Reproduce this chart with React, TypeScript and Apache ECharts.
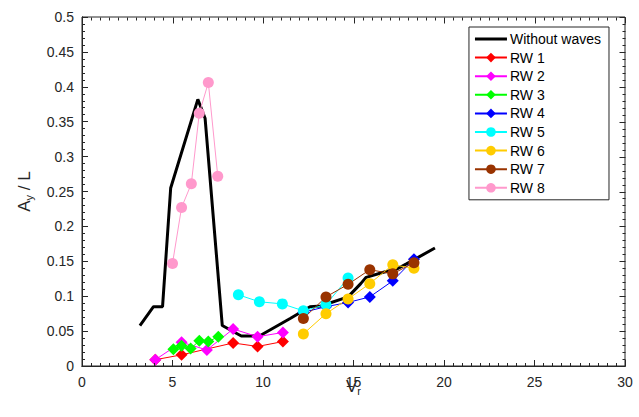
import React, { useEffect, useRef } from "react";
import * as echarts from "echarts";

const noWaveX = [3.2, 3.95, 4.45, 4.9, 6.4, 6.8, 7.75, 8.8, 9.8, 11.5, 12.6, 13.2, 14.7, 15.4, 15.7, 16.6, 17.4, 17.9, 19.5];
const noWaveY = [0.058, 0.085, 0.085, 0.255, 0.382, 0.355, 0.058, 0.043, 0.043, 0.068, 0.085, 0.086, 0.099, 0.118, 0.127, 0.134, 0.139, 0.146, 0.169];

const rw1X = [4.05, 5.5, 8.35, 9.7, 11.1];
const rw1Y = [0.009, 0.016, 0.033, 0.028, 0.035];
const rw2X = [4.05, 5.5, 6.9, 8.35, 9.7, 11.1];
const rw2Y = [0.009, 0.034, 0.023, 0.053, 0.042, 0.048];
const rw3X = [5.05, 5.5, 6.0, 6.48, 6.98, 7.53];
const rw3Y = [0.024, 0.029, 0.025, 0.036, 0.035, 0.042];
const rw4X = [12.23, 13.48, 14.7, 15.9, 17.17, 18.34];
const rw4Y = [0.077, 0.085, 0.091, 0.099, 0.122, 0.153];
const rw5X = [8.64, 9.8, 11.07, 12.23, 13.48, 14.7];
const rw5Y = [0.102, 0.092, 0.089, 0.079, 0.088, 0.126];
const rw6X = [12.23, 13.48, 14.7, 15.9, 17.17, 18.34];
const rw6Y = [0.046, 0.075, 0.096, 0.118, 0.145, 0.14];
const rw7X = [12.23, 13.48, 14.7, 15.9, 17.17, 18.34];
const rw7Y = [0.068, 0.099, 0.117, 0.138, 0.132, 0.148];
const rw8X = [5.0, 5.5, 6.04, 6.48, 6.98, 7.5];
const rw8Y = [0.147, 0.227, 0.261, 0.362, 0.406, 0.272];

const xTicks = [0, 5, 10, 15, 20, 25, 30];
const yTicks = [0, 0.05, 0.1, 0.15, 0.2, 0.25, 0.3, 0.35, 0.4, 0.45, 0.5];
const xMinorPerMajor = 10;
const yMinorPerMajor = 5;

const zip = (xs: number[], ys: number[]) => xs.map((x, i) => [x, ys[i]]);

const FONT = "Liberation Sans, Arial, Helvetica, sans-serif";
const AX = "#262626";
const GRID = { left: 82, top: 17, width: 543, height: 349 };

const sub = () => ({
  a: { fontSize: 17, color: AX, fontFamily: FONT, lineHeight: 20 },
  s: { fontSize: 11, color: AX, fontFamily: FONT, lineHeight: 20, verticalAlign: "bottom", padding: [12, 0, 0, 0] },
});

export default function App() {
  const ref = useRef<HTMLDivElement>(null);
  const ref2 = useRef<HTMLDivElement>(null);
  useEffect(() => {
    if (!ref.current || !ref2.current) return;
    const xMin = xTicks[0];
    const xMax = xTicks[xTicks.length - 1];
    const yMin = yTicks[0];
    const yMax = yTicks[yTicks.length - 1];

    // Main chart: labels, names, legend, data.
    const chart = echarts.init(ref.current, null, { renderer: "svg" });
    const mk = (name: string, xs: number[], ys: number[], color: string, symbol: string, size: number) => ({
      name,
      type: "line",
      data: zip(xs, ys),
      symbol,
      symbolSize: size,
      lineStyle: { color, width: 1 },
      itemStyle: { color },
      z: 3,
    });
    chart.setOption({
      animation: false,
      textStyle: { fontFamily: FONT },
      grid: { ...GRID, outerBoundsMode: "none" },
      xAxis: {
        type: "value",
        min: xMin,
        max: xMax,
        interval: 5,
        splitLine: { show: false },
        axisLine: { show: true, lineStyle: { color: AX, width: 1 } },
        axisTick: { show: false },
        axisLabel: { color: AX, fontSize: 14, margin: 9, fontFamily: FONT },
        name: "{a|V}{s|r}",
        nameLocation: "middle",
        nameGap: 10,
        nameMoveOverlap: false,
        nameTextStyle: { rich: sub() },
      },
      yAxis: {
        type: "value",
        min: yMin,
        max: yMax,
        interval: 0.05,
        splitLine: { show: false },
        axisLine: { show: true, lineStyle: { color: AX, width: 1 } },
        axisTick: { show: false },
        axisLabel: { color: AX, fontSize: 14, margin: 8, fontFamily: FONT },
        name: "{a|A}{s|y}{a| / L}",
        nameLocation: "middle",
        nameRotate: 90,
        nameGap: 48,
        nameTextStyle: { rich: sub() },
      },
      legend: {
        orient: "vertical",
        right: 30,
        top: 27,
        backgroundColor: "#fff",
        borderColor: AX,
        borderWidth: 1,
        borderRadius: 0,
        padding: [5, 8, 5, 5],
        itemWidth: 32,
        itemHeight: 12,
        itemGap: 4.6,
        textStyle: { fontSize: 14, lineHeight: 14, color: "#000", fontFamily: FONT, padding: [0, 0, 0, -2] },
        data: [
          { name: "Without waves", icon: "path://M0,0h32v3h-32z" },
          "RW 1", "RW 2", "RW 3", "RW 4", "RW 5", "RW 6", "RW 7", "RW 8",
        ],
      },
      series: [
        {
          name: "Without waves",
          type: "line",
          data: zip(noWaveX, noWaveY),
          showSymbol: false,
          symbol: "none",
          lineStyle: { color: "#000", width: 3 },
          itemStyle: { color: "#000" },
          z: 2,
        },
        mk("RW 1", rw1X, rw1Y, "#ff0000", "diamond", 12),
        mk("RW 2", rw2X, rw2Y, "#ff00ff", "diamond", 12),
        mk("RW 3", rw3X, rw3Y, "#00ff00", "diamond", 12),
        mk("RW 4", rw4X, rw4Y, "#0000ff", "diamond", 12),
        mk("RW 5", rw5X, rw5Y, "#00ffff", "circle", 11),
        mk("RW 6", rw6X, rw6Y, "#ffcc00", "circle", 11),
        mk("RW 7", rw7X, rw7Y, "#993300", "circle", 11),
        mk("RW 8", rw8X, rw8Y, "#ff99cc", "circle", 11),
      ],
    });

    // Overlay chart: frame and inside tick marks (no styled labels here).
    const frame = echarts.init(ref2.current, null, { renderer: "svg" });
    frame.setOption({
      animation: false,
      grid: { ...GRID, outerBoundsMode: "none", show: true, borderColor: AX, borderWidth: 1 },
      xAxis: {
        type: "value",
        min: xMin,
        max: xMax,
        interval: 5,
        splitLine: { show: false },
        axisLine: { show: true, lineStyle: { color: AX } },
        axisTick: { show: true, inside: true, length: 6, lineStyle: { color: AX } },
        minorTick: { show: true, splitNumber: xMinorPerMajor, length: 3, lineStyle: { color: AX } },
        axisLabel: { formatter: () => "" },
      },
      yAxis: {
        type: "value",
        min: yMin,
        max: yMax,
        interval: 0.05,
        splitLine: { show: false },
        axisLine: { show: true, lineStyle: { color: AX } },
        axisTick: { show: true, inside: true, length: 6, lineStyle: { color: AX } },
        minorTick: { show: true, splitNumber: yMinorPerMajor, length: 3, lineStyle: { color: AX } },
        axisLabel: { formatter: () => "" },
      },
      series: [
        { type: "line", data: [[xMin, yMin]], symbol: "none", silent: true, lineStyle: { opacity: 0 } },
      ],
    });
    // Top and right tick marks, positioned through the axes' scales.
    try {
      const px = (v: number) => frame.convertToPixel({ xAxisIndex: 0 }, v) as unknown as number;
      const py = (v: number) => frame.convertToPixel({ yAxisIndex: 0 }, v) as unknown as number;
      const yT = Math.round(py(yMax)) + 0.5;
      const xR = Math.round(px(xMax)) + 0.5;
      const elements: any[] = [];
      const style = { stroke: AX, lineWidth: 1, fill: null };
      const nx = (xTicks.length - 1) * xMinorPerMajor;
      for (let i = 0; i <= nx; i++) {
        const v = xMin + ((xMax - xMin) * i) / nx;
        const len = i % xMinorPerMajor === 0 ? 6 : 3;
        const x = Math.round(px(v)) + 0.5;
        elements.push({ type: "line", silent: true, z: 100, shape: { x1: x, y1: yT, x2: x, y2: yT + len }, style });
      }
      const ny = (yTicks.length - 1) * yMinorPerMajor;
      for (let j = 0; j <= ny; j++) {
        const v = yMin + ((yMax - yMin) * j) / ny;
        const len = j % yMinorPerMajor === 0 ? 6 : 3;
        const y = Math.round(py(v)) + 0.5;
        elements.push({ type: "line", silent: true, z: 100, shape: { x1: xR, y1: y, x2: xR - len, y2: y }, style });
      }
      frame.setOption({ graphic: elements });
    } catch (e) {
      console.error(e);
    }
    return () => {
      chart.dispose();
      frame.dispose();
    };
  }, []);
  return (
    <div style={{ position: "absolute", left: 0, top: 0, width: 639, height: 417, background: "#fff" }}>
      <div ref={ref} style={{ width: 639, height: 417, position: "absolute", left: 0, top: 0 }} />
      <div ref={ref2} style={{ width: 639, height: 417, position: "absolute", left: 0, top: 0, pointerEvents: "none" }} />
    </div>
  );
}
